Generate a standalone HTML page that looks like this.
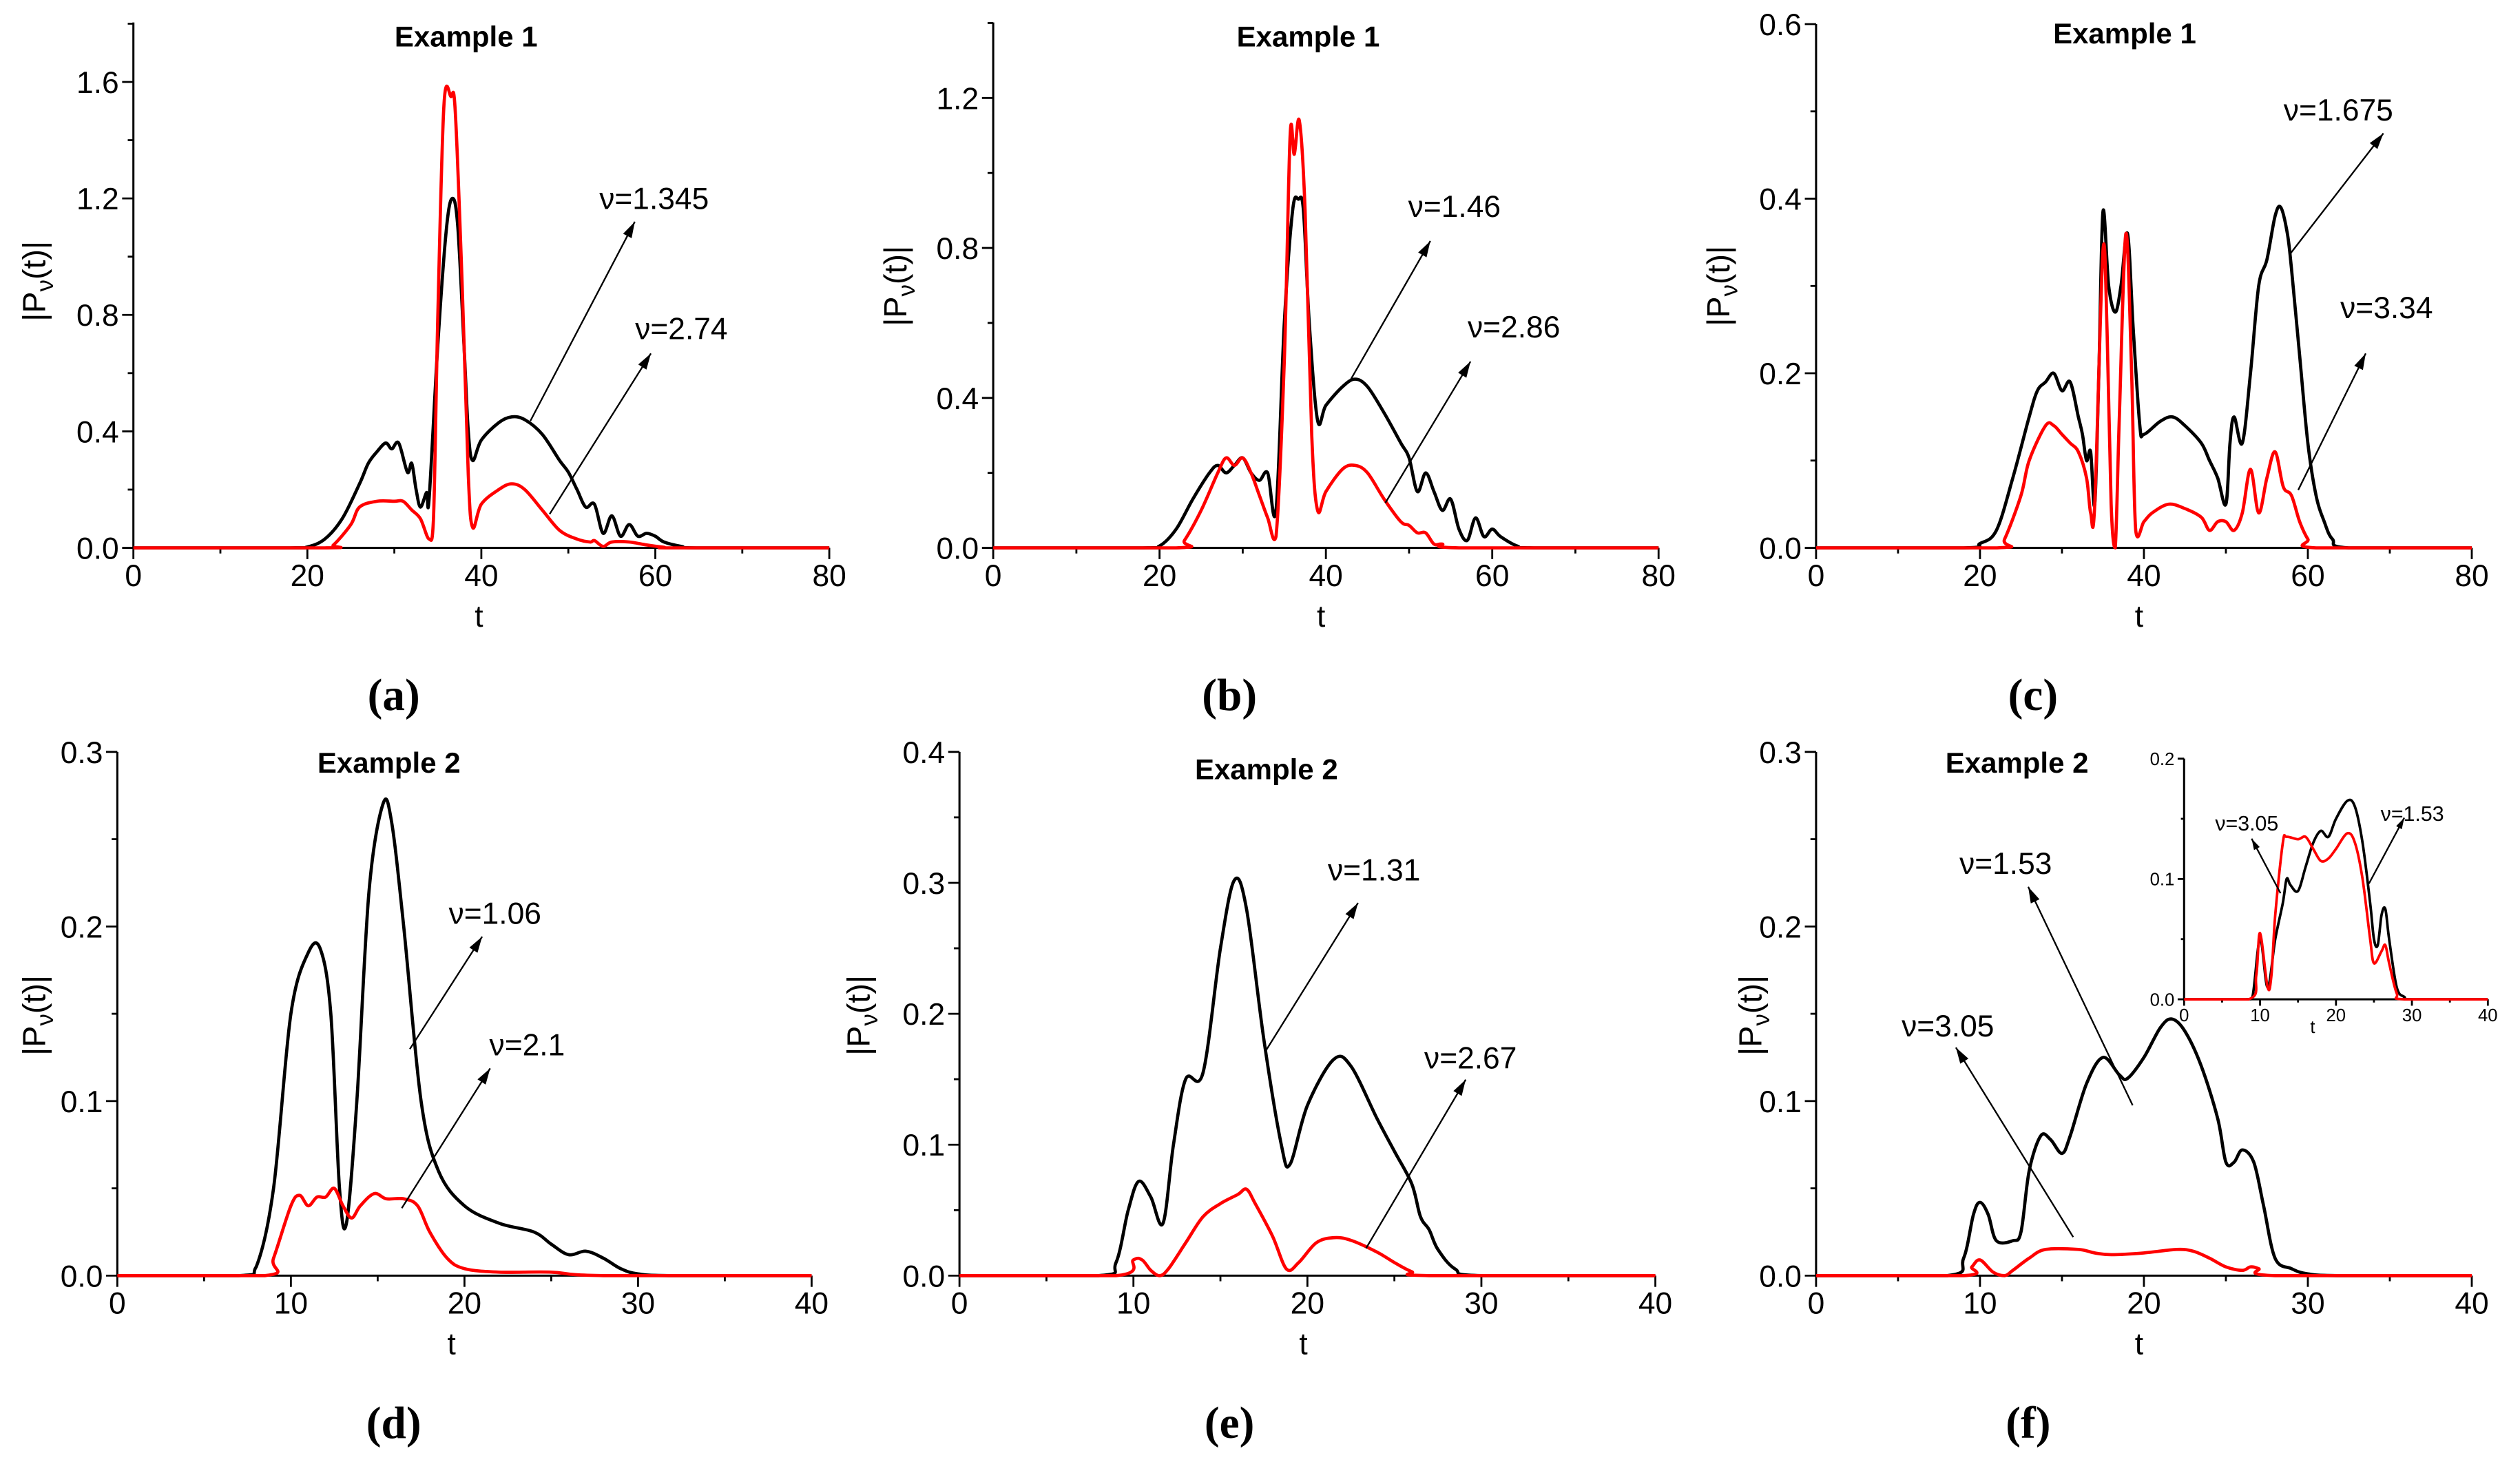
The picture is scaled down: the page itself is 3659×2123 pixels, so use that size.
<!DOCTYPE html>
<html><head><meta charset="utf-8"><style>
html,body{margin:0;padding:0;background:#fff;}
svg{display:block;font-family:"Liberation Sans",sans-serif;}
</style></head><body>
<svg id="fig" width="3659" height="2123" viewBox="0 0 1568 910" preserveAspectRatio="none" xmlns="http://www.w3.org/2000/svg"></svg>
<script>
// ---- data (t values and |P| values) ----
const aT_k=[0,18,20,22,24,26,27,28,29,29.7,30.5,31.5,32,32.5,33,33.7,34,35,36,36.7,37.3,38,38.5,39,40,42,43.5,45,47,49,50,51,52,53,54,55,56,57,58,59,60,61,63,65,80];
const aV_k=[0,0,0.003,0.03,0.1,0.22,0.29,0.33,0.36,0.34,0.36,0.26,0.29,0.2,0.14,0.19,0.17,0.7,1.1,1.2,1.1,0.7,0.4,0.3,0.37,0.43,0.45,0.44,0.39,0.3,0.26,0.2,0.14,0.15,0.05,0.11,0.04,0.08,0.04,0.05,0.04,0.02,0.005,0,0];
const aT_r=[0,22,23,25,26,28,30,31,32,33,34,34.5,35,35.7,36.5,37,37.8,38.5,39,40,42,43.5,45,47,49,51,52.5,53,54,55,57,59,61,62,80];
const aV_r=[0,0,0.01,0.08,0.14,0.16,0.16,0.16,0.13,0.1,0.03,0.1,0.8,1.52,1.55,1.5,0.9,0.25,0.07,0.15,0.2,0.22,0.2,0.13,0.06,0.03,0.02,0.025,0.005,0.02,0.02,0.01,0.002,0,0];
const bT_k=[0,18,20,22,24,26,27,28,29,30,31,32,33,34,35,36,36.7,37.3,38,39,40,42,43.5,45,47,49,50,51,52,53,54,55,56,57,58,59,60,61,63,65,80];
const bV_k=[0,0,0.005,0.05,0.13,0.2,0.22,0.2,0.22,0.24,0.2,0.18,0.2,0.1,0.6,0.9,0.93,0.9,0.6,0.34,0.38,0.43,0.45,0.43,0.36,0.28,0.24,0.15,0.2,0.15,0.1,0.13,0.05,0.02,0.08,0.03,0.05,0.03,0.005,0,0];
const bT_r=[0,22,23,25,27,28,29,30,31,32,33,34,35,35.7,36.2,36.8,37.5,38.3,39,40,42,43.5,45,47,49,50,51,52,53,54,56,80];
const bV_r=[0,0,0.02,0.1,0.2,0.24,0.22,0.24,0.2,0.14,0.08,0.03,0.5,1.1,1.05,1.14,0.9,0.3,0.1,0.15,0.21,0.22,0.2,0.13,0.07,0.06,0.04,0.04,0.01,0.01,0,0];
const cT_k=[0,18,20,22,24,26,27,28,29,30,31,32,32.5,33,33.5,34,34.5,35,35.7,36.5,37.2,38,38.7,39.5,40,42,43.5,45,47,48,49,50,50.5,51,52,53,54,55,56,56.7,57.5,58,59,60,61,62,63,65,80];
const cV_k=[0,0,0.005,0.02,0.08,0.15,0.18,0.19,0.2,0.18,0.19,0.15,0.13,0.1,0.11,0.05,0.2,0.385,0.3,0.27,0.3,0.36,0.25,0.14,0.13,0.145,0.15,0.14,0.12,0.1,0.08,0.05,0.12,0.15,0.12,0.2,0.3,0.33,0.38,0.39,0.36,0.32,0.22,0.12,0.06,0.03,0.01,0,0];
const cT_r=[0,22,23,25,26,28,29,30,31,32,33,33.5,34,35,35.5,36,36.5,37,37.8,38.5,39,40,41,43,45,47,48,49,50,51,52,53,54,55,56,57,58,59,60,61,80];
const cV_r=[0,0,0.01,0.06,0.1,0.14,0.14,0.13,0.12,0.11,0.08,0.04,0.05,0.34,0.25,0.05,0,0.15,0.36,0.2,0.02,0.03,0.04,0.05,0.045,0.035,0.02,0.03,0.03,0.02,0.04,0.09,0.04,0.08,0.11,0.07,0.06,0.03,0.01,0,0];
const dT_k=[0,7,8,9,10,11,11.7,12.3,12.8,13.2,13.8,14.5,15.3,15.8,16.5,17.5,18.5,20,22,24,25,26,27,28,29,30,32,40];
const dV_k=[0,0,0.005,0.05,0.15,0.185,0.187,0.15,0.05,0.03,0.1,0.22,0.27,0.26,0.2,0.1,0.06,0.04,0.03,0.025,0.018,0.012,0.014,0.01,0.004,0.001,0,0];
const dT_r=[0,8.5,9,10,10.5,11,11.5,12,12.5,13,13.5,14,14.8,15.5,16.5,17.3,18,19,20,22,25,28,40];
const dV_r=[0,0,0.01,0.04,0.046,0.04,0.045,0.045,0.05,0.04,0.033,0.04,0.047,0.044,0.044,0.04,0.025,0.01,0.004,0.002,0.002,0,0];
const eT_k=[0,8,9,9.7,10.3,11,11.7,12.3,13,14,15,15.8,16.5,17.5,18.5,19,20,21.5,22.5,24,25,26,26.5,27,27.5,28.5,30,40];
const eV_k=[0,0,0.01,0.05,0.072,0.06,0.04,0.1,0.15,0.155,0.25,0.302,0.28,0.18,0.1,0.085,0.13,0.165,0.16,0.12,0.095,0.07,0.045,0.035,0.02,0.005,0,0];
const eT_r=[0,9,10,10.5,11,11.5,12,13,14,15,16,16.5,17,18,18.8,19.5,20.5,21.5,22.5,24,25,26,27,40];
const eV_r=[0,0,0.012,0.012,0.004,0,0.005,0.025,0.045,0.055,0.062,0.066,0.055,0.03,0.005,0.01,0.025,0.029,0.027,0.018,0.01,0.003,0,0];
const fT_k=[0,8,9,9.6,10,10.5,11,12,12.5,13,13.7,14.3,15,15.5,16.5,17.5,18.5,19,20,21,21.7,22.5,23.5,24.5,25,25.5,26,26.7,27.3,28,29,30,32,40];
const fV_k=[0,0,0.01,0.035,0.042,0.035,0.02,0.02,0.025,0.06,0.08,0.078,0.07,0.08,0.11,0.125,0.115,0.113,0.125,0.142,0.147,0.14,0.12,0.09,0.065,0.065,0.072,0.065,0.04,0.01,0.004,0.001,0,0];
const fT_r=[0,9,9.5,10,10.8,11.5,12,13,14,16,17,18,20,22,23,24,25,26,26.5,27,28,40];
const fV_r=[0,0,0.005,0.009,0.002,0,0.003,0.01,0.015,0.015,0.013,0.012,0.013,0.015,0.014,0.01,0.005,0.003,0.005,0.004,0,0];
const gT_k=[0,8,9,10,11,12,13,13.5,14,15,16,17,18,19,20,21.5,22.5,23.5,24.5,25,25.5,26,26.5,27,28,29,30,40];
const gV_k=[0,0,0.002,0.05,0.01,0.05,0.08,0.1,0.095,0.09,0.11,0.13,0.14,0.135,0.15,0.165,0.16,0.13,0.08,0.05,0.045,0.07,0.075,0.05,0.01,0.002,0,0];
const gT_r=[0,8.5,9.5,10,11,11.5,12,13,13.5,15,16,17,18,19,20,21.5,22.5,23.5,24.5,25,26,26.5,27,28,29,40];
const gV_r=[0,0,0.02,0.055,0.01,0.02,0.07,0.13,0.135,0.133,0.135,0.125,0.115,0.117,0.125,0.138,0.13,0.1,0.05,0.03,0.04,0.045,0.03,0.005,0,0];
const yTicks1=[0,0.4,0.8,1.2,1.6], yTicks2=[0,0.4,0.8,1.2], yTicks3=[0,0.2,0.4,0.6];
const yTicks4=[0,0.1,0.2,0.3], yTicks5=[0,0.1,0.2,0.3,0.4], yTicksIn=[0,0.1,0.2];
const xTicks80=[0,20,40,60,80], xTicks40=[0,10,20,30,40];

const NS="http://www.w3.org/2000/svg";
const svg=document.getElementById('fig');
function mk(tag,attrs,parent){const e=document.createElementNS(NS,tag);for(const k in attrs)e.setAttribute(k,attrs[k]);(parent||svg).appendChild(e);return e;}
function txt(s,attrs,parent){const e=mk('text',attrs,parent);e.textContent=s;return e;}
function smooth(pts,ymax){const c=v=>Math.min(v,ymax);let d='M'+pts[0][0].toFixed(2)+','+pts[0][1].toFixed(2);
 for(let i=0;i<pts.length-1;i++){const p0=pts[Math.max(0,i-1)],p1=pts[i],p2=pts[i+1],p3=pts[Math.min(pts.length-1,i+2)];
  const c1=[p1[0]+(p2[0]-p0[0])/6,c(p1[1]+(p2[1]-p0[1])/6)],c2=[p2[0]-(p3[0]-p1[0])/6,c(p2[1]-(p3[1]-p1[1])/6)];
  d+='C'+c1.map(v=>v.toFixed(2)).join(',')+' '+c2.map(v=>v.toFixed(2)).join(',')+' '+p2[0].toFixed(2)+','+p2[1].toFixed(2);}
 return d;}

function panel(cfg){
 const g=mk('g',{});
 
 
 const X=t=>cfg.x0+(t/cfg.xmax)*(cfg.x1-cfg.x0);
 const Y=v=>cfg.y0-(v/cfg.ytop)*(cfg.y0-cfg.y1);
 const fs=cfg.fs||19, tl=cfg.tl||7;
 const axTop=cfg.axTop!==undefined?cfg.axTop:cfg.y1;
 // axes
 const ax=mk('line',{x1:cfg.x0,y1:cfg.y0,x2:cfg.x0,y2:axTop,stroke:'#000','stroke-width':1.3},g);
 
 const bx=mk('line',{x1:cfg.x0,y1:cfg.y0,x2:cfg.x1,y2:cfg.y0,stroke:'#000','stroke-width':1.3},g);
 
 cfg.xt.forEach((t,i)=>{
  mk('line',{x1:X(t),y1:cfg.y0,x2:X(t),y2:cfg.y0+tl,stroke:'#000','stroke-width':1.2},g);
  if(i<cfg.xt.length-1){const m=(t+cfg.xt[i+1])/2;mk('line',{x1:X(m),y1:cfg.y0,x2:X(m),y2:cfg.y0+tl/2,stroke:'#000','stroke-width':1.2},g);}
  const l=txt(String(t),{x:X(t),y:cfg.y0+tl+fs*0.88,'font-size':fs,'text-anchor':'middle'},g);
  
 });
 cfg.yt.forEach((v,i)=>{
  mk('line',{x1:cfg.x0,y1:Y(v),x2:cfg.x0-tl,y2:Y(v),stroke:'#000','stroke-width':1.2},g);
  const m=v+(cfg.yt[1]-cfg.yt[0])/2; if(Y(m)>axTop-0.5) mk('line',{x1:cfg.x0,y1:Y(m),x2:cfg.x0-tl/2,y2:Y(m),stroke:'#000','stroke-width':1.2},g);
  const l=txt(v.toFixed(1),{x:cfg.x0-tl-2,y:Y(v)+fs*0.36,'font-size':fs,'text-anchor':'end'},g);
  
 });
 // series
 const series=[[cfg.tk,cfg.vk,'#000','black-curve'],[cfg.tr,cfg.vr,'#f00','red-curve']];
 series.forEach(s=>{
  const pts=s[0].map((t,i)=>[X(t),Y(s[1][i])]);
  const p=mk('path',{d:smooth(pts,cfg.y0),fill:'none',stroke:s[2],'stroke-width':cfg.lw||2,'stroke-linejoin':'round'},g);
  
  
 });
 const xl=txt('t',{x:cfg.xlx,y:cfg.xly,'font-size':fs,'text-anchor':'middle'},g);
 
 if(cfg.ylx){
  const yl=mk('text',{x:0,y:0,'font-size':20,'text-anchor':'middle',transform:`translate(${cfg.ylx},${cfg.yly}) rotate(-90)`},g);
  yl.innerHTML='|P<tspan font-size="15" dy="5">ν</tspan><tspan dy="-5">(t)|</tspan>';
  
 }
 if(cfg.title){const t=txt(cfg.title,{x:cfg.tx,y:cfg.ty,'font-size':18,'font-weight':'bold','text-anchor':'middle'},g);
  }
 if(cfg.letter){const t=txt(cfg.letter,{x:cfg.lx,y:cfg.ly,'font-size':28,'font-weight':'bold','font-family':'Liberation Serif, serif','text-anchor':'middle'},g);
  }
 (cfg.ann||[]).forEach(a=>{
  const ag=mk('g',{},g);
  
  mk('line',{x1:a[0],y1:a[1],x2:a[2],y2:a[3],stroke:'#000','stroke-width':1},ag);
  const ang=Math.atan2(a[3]-a[1],a[2]-a[0]),L=a[7]?7:10,W=a[7]?2:3;
  const bx_=a[2]-L*Math.cos(ang),by_=a[3]-L*Math.sin(ang);
  mk('polygon',{points:`${a[2]},${a[3]} ${bx_-W*Math.sin(ang)},${by_+W*Math.cos(ang)} ${bx_+W*Math.sin(ang)},${by_-W*Math.cos(ang)}`,fill:'#000'},ag);
  const t=txt(a[4],{x:a[5],y:a[6],'font-size':a[7]||19,'text-anchor':'middle'},ag);
  
 });
}
panel({name:'panel-a',x0:83,x1:516,xmax:80,y0:341,y1:51,ytop:1.6,axTop:14,tk:aT_k,vk:aV_k,tr:aT_r,vr:aV_r,xt:xTicks80,yt:yTicks1,
 xlx:298,xly:390,ylx:28,yly:175,title:'Example 1',tx:290,ty:29,letter:'(a)',lx:245,ly:442,
 ann:[[330,262,395,138,'ν=1.345',407,130],[342,320,405,220,'ν=2.74',424,211]]});
panel({name:'panel-b',x0:618,x1:1032,xmax:80,y0:341,y1:61,ytop:1.2,axTop:14,tk:bT_k,vk:bV_k,tr:bT_r,vr:bV_r,xt:xTicks80,yt:yTicks2,
 xlx:822,xly:390,ylx:564,yly:178,title:'Example 1',tx:814,ty:29,letter:'(b)',lx:765,ly:442,
 ann:[[840,237,890,150,'ν=1.46',905,135],[862,313,915,225,'ν=2.86',942,210]]});
panel({name:'panel-c',x0:1130,x1:1538,xmax:80,y0:341,y1:15,ytop:0.6,tk:cT_k,vk:cV_k,tr:cT_r,vr:cV_r,xt:xTicks80,yt:yTicks3,
 xlx:1331,xly:390,ylx:1076,yly:178,title:'Example 1',tx:1322,ty:27,letter:'(c)',lx:1265,ly:442,
 ann:[[1425,158,1483,83,'ν=1.675',1455,75],[1430,305,1472,220,'ν=3.34',1485,198]]});
panel({name:'panel-d',x0:73,x1:505,xmax:40,y0:794,y1:468,ytop:0.3,tk:dT_k,vk:dV_k,tr:dT_r,vr:dV_r,xt:xTicks40,yt:yTicks4,
 xlx:281,xly:843,ylx:28,yly:632,title:'Example 2',tx:242,ty:481,letter:'(d)',lx:245,ly:895,
 ann:[[255,653,300,583,'ν=1.06',308,575],[250,752,305,665,'ν=2.1',328,657]]});
panel({name:'panel-e',x0:597,x1:1030,xmax:40,y0:794,y1:468,ytop:0.4,tk:eT_k,vk:eV_k,tr:eT_r,vr:eV_r,xt:xTicks40,yt:yTicks5,
 xlx:811,xly:843,ylx:541,yly:632,title:'Example 2',tx:788,ty:485,letter:'(e)',lx:765,ly:895,
 ann:[[787,655,845,562,'ν=1.31',855,548],[850,777,912,672,'ν=2.67',915,665]]});
panel({name:'panel-f',x0:1130,x1:1538,xmax:40,y0:794,y1:468,ytop:0.3,tk:fT_k,vk:fV_k,tr:fT_r,vr:fV_r,xt:xTicks40,yt:yTicks4,
 xlx:1331,xly:843,ylx:1096,yly:632,title:'Example 2',tx:1255,ty:481,letter:'(f)',lx:1262,ly:895,
 ann:[[1327,688,1262,552,'ν=1.53',1248,544],[1290,770,1217,652,'ν=3.05',1212,645]]});
panel({name:'inset-f',x0:1359,x1:1548,xmax:40,y0:622,y1:472.2,ytop:0.2,tk:gT_k,vk:gV_k,tr:gT_r,vr:gV_r,xt:xTicks40,yt:yTicksIn,
 fs:11,tl:4,lw:1.6,xlx:1439,xly:643,
 ann:[[1419,556,1401,522,'ν=3.05',1398,517,13],[1474,550,1496,509,'ν=1.53',1501,511,13]]});
</script>
</body></html>
